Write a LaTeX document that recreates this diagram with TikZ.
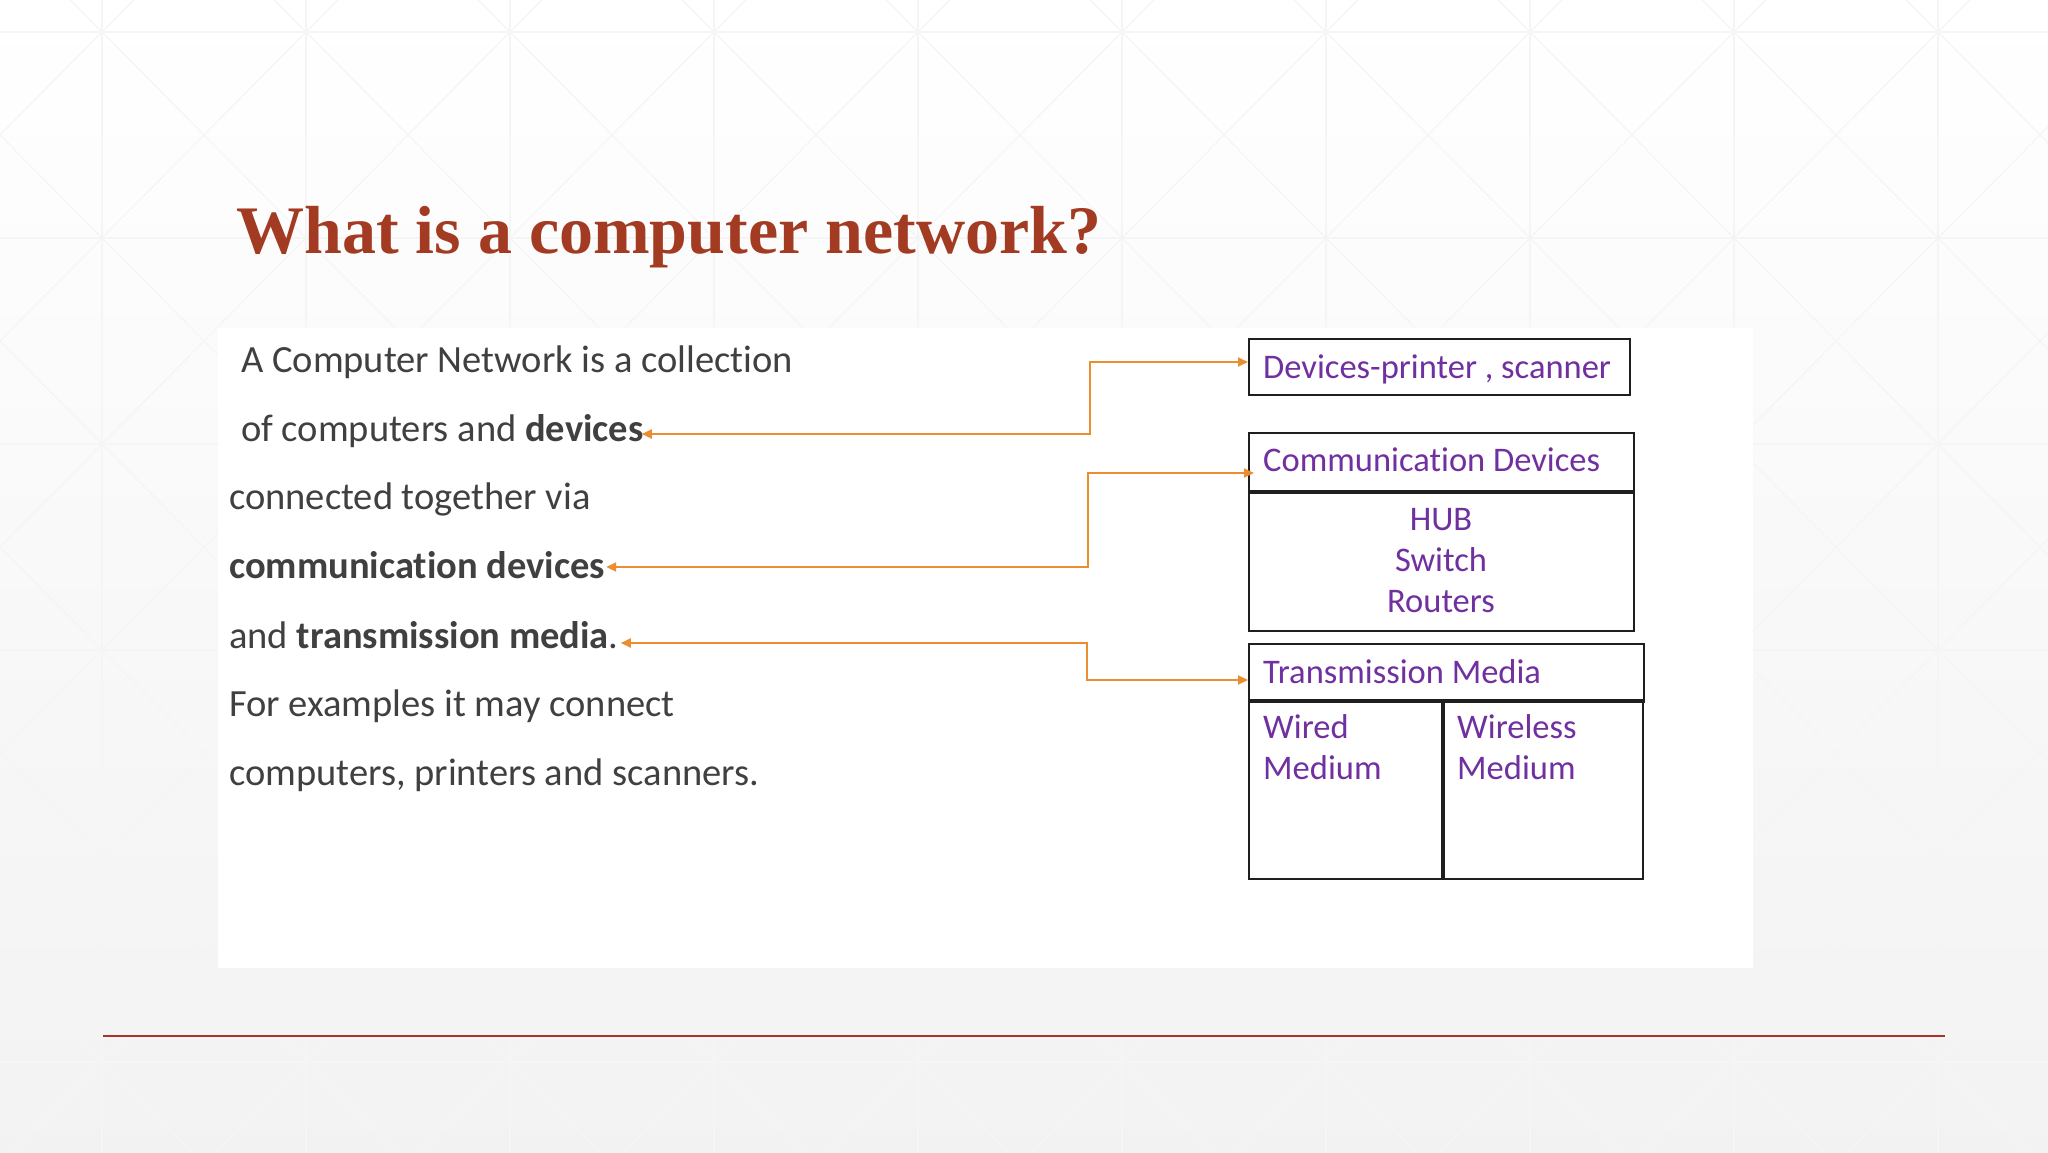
\documentclass[tikz,border=0pt]{standalone}
\usepackage{fontspec}
\setmainfont{Carlito}[Ligatures=NoCommon]
\newfontfamily\titlefont{Liberation Serif}
\usetikzlibrary{arrows.meta,calc}
\definecolor{titlered}{RGB}{163,59,35}
\definecolor{rulered}{RGB}{172,50,38}
\definecolor{bodygray}{RGB}{64,64,64}
\definecolor{boxpurple}{RGB}{112,48,160}
\definecolor{arroworange}{RGB}{234,142,48}
\definecolor{patterngray}{RGB}{245,245,245}
\begin{document}
\begin{tikzpicture}[x=1pt,y=-1pt,
  bodytext/.style={anchor=base west, inner sep=0pt, text=bodygray, font=\fontsize{38.5}{46}\selectfont},
  boxtext/.style={anchor=base west, inner sep=0pt, text=boxpurple, font=\fontsize{34.5}{41}\selectfont},
  boxframe/.style={draw=black!88, line width=2pt, inner sep=0pt, anchor=north west, fill=white},
  sepline/.style={draw=black!88, line width=3.2pt},
  patline/.style={draw=patterngray, line width=1.2pt},
  conn/.style={draw=arroworange, line width=1.8pt, {Triangle[length=10pt,width=9pt]}-{Triangle[length=10pt,width=9pt]}},
]
\useasboundingbox (0,0) rectangle (2048,1152);
% background
\shade[top color=white, middle color=white, bottom color=black!5] (0,0) rectangle (2048,1152);
\begin{scope}
\clip (0,0) rectangle (2048,1152);
\foreach \i in {-1,...,9} {
  \foreach \j in {-1,...,5} {
    \draw[patline] (102+204*\i, 32+206*\j) -- ++(204,206);
    \draw[patline] (306+204*\i, 32+206*\j) -- ++(-204,206);
  }
}
\foreach \i in {0,...,9} { \draw[patline] (102+204*\i,0) -- (102+204*\i,1152); }
\foreach \j in {0,...,5} { \draw[patline] (0,32+206*\j) -- (2048,32+206*\j); }
\end{scope}
% content panel
\fill[white] (218,328) rectangle (1753,968);
% title
\node[anchor=base west, inner sep=0pt, text=titlered, font=\titlefont\bfseries\fontsize{68}{80}\selectfont] (title) at (236,253) {What is a computer network?};
% bottom rule
\draw[rulered, line width=2pt] (103,1036) -- (1945,1036);
% body text
\node[bodytext] (l1) at (241,372) {A Computer Network is a collection};
\node[bodytext] (l2) at (241,441) {of computers and \textbf{devices}};
\node[bodytext] (l3) at (229,509) {connected together via};
\node[bodytext] (l4) at (229,578) {\textbf{communication devices}};
\node[bodytext] (l5) at (229,648) {and \textbf{transmission media}.};
\node[bodytext] (l6) at (229,716) {For examples it may connect};
\node[bodytext] (l7) at (229,785) {computers, printers and scanners.};
% box 1
\node[boxframe, minimum width=381pt, minimum height=56pt] (b1) at (1248,338) {};
\node[boxtext] (t1) at (1263,378) {Devices-printer , scanner};
% box 2
\node[boxframe, minimum width=385pt, minimum height=140pt] (b2b) at (1248,490) {};
\node[boxframe, minimum width=385pt, minimum height=58pt] (b2h) at (1248,432) {};
\draw[sepline] (b2h.south west) -- (b2h.south east);
\node[boxtext] (t2) at (1263,471) {Communication Devices};
\node[boxtext, anchor=base] (t2a) at (1441,530) {HUB};
\node[boxtext, anchor=base] (t2b) at (1441,571) {Switch};
\node[boxtext, anchor=base] (t2c) at (1441,612) {Routers};
% box 3
\node[boxframe, minimum width=394pt, minimum height=179pt] (b3b) at (1248,699) {};
\node[boxframe, minimum width=395pt, minimum height=56pt] (b3h) at (1248,643) {};
\draw[sepline] (b3h.south west) -- (b3h.south east);
\draw[sepline] (1443,699) -- (1443,878);
\node[boxtext] (t3) at (1263,683) {Transmission Media};
\node[boxtext] (t3a) at (1263,738) {Wired};
\node[boxtext] (t3b) at (1263,779) {Medium};
\node[boxtext] (t3c) at (1457,738) {Wireless};
\node[boxtext] (t3d) at (1457,779) {Medium};
% connectors
\coordinate (k1) at (1090,0);
\coordinate (k2) at (1088,0);
\coordinate (k3) at (1087,0);
\draw[conn] ([xshift=-2pt,yshift=7pt]l2.base east) coordinate (s1) -- (s1 -| k1) |- ([yshift=5pt]b1.west);
\draw[conn] ([xshift=1pt,yshift=11pt]l4.base east) coordinate (s2) -- (s2 -| k2) |- ([xshift=6pt,yshift=-11pt]b2h.west);
\draw[conn] ([xshift=2pt,yshift=5pt]l5.base east) coordinate (s3) -- (s3 -| k3) |- ([yshift=-8pt]b3h.west);
\end{tikzpicture}
\end{document}
